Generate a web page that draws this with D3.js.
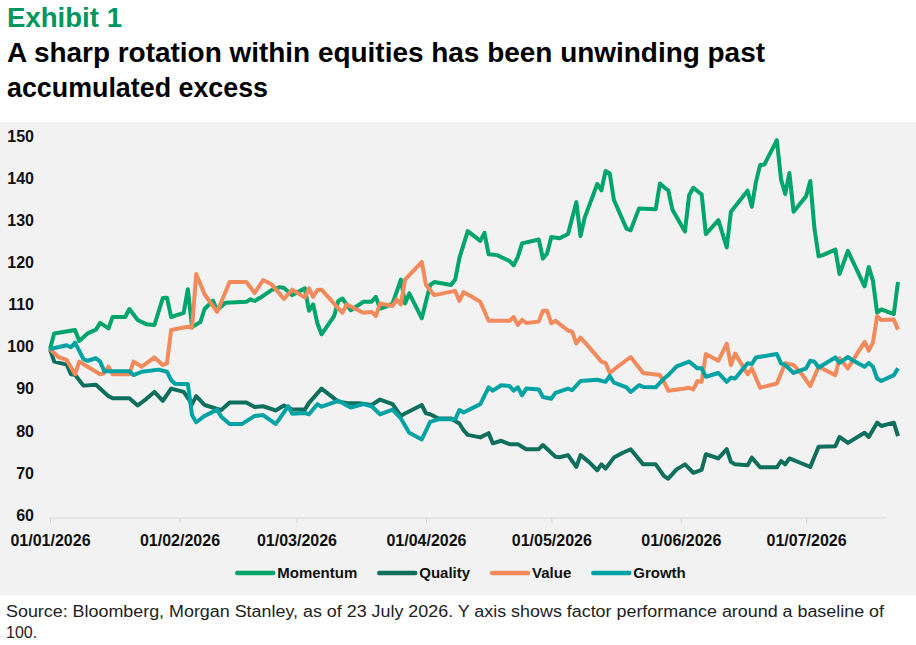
<!DOCTYPE html>
<html>
<head>
<meta charset="utf-8">
<script src="https://cdn.jsdelivr.net/npm/d3@7"></script>
<style>
  body { margin: 0; background: #ffffff; }
  svg { display: block; font-family: "Liberation Sans", Arial, sans-serif; }
</style>
</head>
<body>
<svg id="chart"></svg>
<script>
// ---- data ----
const YEAR = "2026";
const seriesNames = ["Momentum", "Quality", "Value", "Growth"];
const yTicks = [60, 70, 80, 90, 100, 110, 120, 130, 140, 150];
const exhibitLabel = "Exhibit 1";
const titleLines = ["A sharp rotation within equities has been unwinding past", "accumulated excess"];
const sourceLines = ["Source: Bloomberg, Morgan Stanley, as of 23 July 2026. Y axis shows factor performance around a baseline of", "100."];

const momentumDates = ["01-01","01-02","01-07","01-08","01-10","01-12","01-13","01-15","01-16","01-19","01-20","01-22","01-24","01-26","01-28","01-29","01-30",
  "02-02","02-03","02-04","02-06","02-07","02-09","02-10","02-12","02-17","02-18","02-19","02-21","02-23","02-25","02-26","02-28",
  "03-03","03-04","03-05","03-06","03-07","03-10","03-11","03-12","03-14","03-17","03-19","03-20","03-21","03-22","03-24","03-26","03-27","03-28","03-31",
  "04-02","04-03","04-07","04-08","04-09","04-11","04-14","04-15","04-16","04-18","04-21","04-22","04-23","04-24","04-28","04-29","04-30",
  "05-01","05-03","05-05","05-07","05-08","05-09","05-12","05-13","05-14","05-15","05-16","05-19","05-20","05-22","05-26","05-27","05-28","05-29","05-30",
  "06-02","06-03","06-04","06-06","06-07","06-10","06-12","06-13","06-17","06-18","06-19","06-20","06-21","06-24","06-25","06-26","06-27","06-28",
  "07-01","07-02","07-03","07-04","07-05","07-08","07-09","07-11","07-15","07-16","07-17","07-18","07-19","07-22","07-23"];
const momentumValues = [100,103.7,104.5,101.9,103.7,104.6,106.2,104.9,107.6,107.6,109.5,106.9,105.9,105.7,112.1,112.2,107.6,
  108.6,114.2,105.2,106.4,109.5,111.5,109.2,111.0,111.2,111.8,111.4,112.6,114.0,114.7,114.5,112.8,
  114.4,109.1,110.6,106.1,103.5,107.8,111.4,112.0,109.2,111.2,111.2,112.4,109.6,109.9,110.8,116.5,110.8,113.2,107.3,
  115.2,115.9,115.2,116.5,121.6,128.0,125.7,127.6,122.5,122.3,120.9,119.9,121.9,125.1,126.0,121.5,122.7,
  126.6,126.3,127.3,134.9,126.8,131.2,139.2,137.7,142.3,141.7,135.4,128.6,128.2,133.4,133.2,139.3,138.4,137.7,133.1,
  127.9,136.5,138.3,136.7,127.3,130.6,124.1,132.6,137.6,133.8,139.7,143.7,143.8,149.6,140.3,136.8,141.8,132.6,
  136.3,139.9,128.6,122.0,122.3,123.6,117.8,123.3,114.9,119.5,116.2,108.6,109.4,108.3,115.9];

const qualityDates = ["01-01","01-02","01-05","01-06","01-07","01-09","01-12","01-15","01-16","01-20","01-22","01-24","01-26","01-28","01-30",
  "02-02","02-04","02-05","02-07","02-11","02-13","02-17","02-19","02-21","02-24","02-26","02-28",
  "03-03","03-04","03-07","03-11","03-13","03-16","03-19","03-21","03-24","03-26","03-27","03-31",
  "04-01","04-02","04-04","04-07","04-09","04-10","04-11","04-14","04-16","04-17","04-19","04-21","04-23","04-24","04-25","04-28","04-29",
  "05-02","05-03","05-05","05-07","05-08","05-10","05-12","05-13","05-14","05-16","05-18","05-20","05-23","05-26","05-28","05-29","05-31",
  "06-02","06-04","06-06","06-07","06-10","06-12","06-13","06-14","06-17","06-18","06-20","06-24","06-25","06-26","06-27","06-30",
  "07-02","07-04","07-08","07-09","07-11","07-15","07-16","07-18","07-19","07-22","07-23"];
const qualityValues = [100,97.0,96.3,94.0,93.9,91.3,91.5,88.8,88.3,88.3,86.6,88.1,89.8,87.7,90.6,
  89.8,86.9,88.8,86.7,85.5,87.3,87.3,86.2,86.4,85.4,86.6,85.6,
  85.6,87.2,90.6,87.5,87.2,87.1,86.7,88.0,86.9,84.1,84.7,86.7,
  84.7,84.5,83.5,83.5,82.3,80.7,79.6,79.0,80.0,77.6,78.2,77.4,77.4,76.8,76.2,76.2,77.2,
  74.4,74.3,74.8,72.0,74.8,73.2,71.2,72.6,71.6,74.2,75.3,76.2,72.6,72.6,69.8,69.2,71.4,
  72.6,70.6,71.3,75.0,74.0,76.2,73.2,72.6,72.4,74.2,71.9,71.9,73.4,72.6,74.0,72.8,
  72.0,76.8,76.9,79.1,77.7,80.1,79.1,82.5,81.7,82.5,79.3];

const valueDates = ["01-01","01-03","01-05","01-07","01-08","01-10","01-13","01-14","01-15","01-16","01-20","01-21","01-23","01-26","01-28","01-29","01-30",
  "02-03","02-04","02-05","02-07","02-10","02-13","02-17","02-19","02-21","02-23","02-26","02-28",
  "03-03","03-04","03-05","03-06","03-07","03-12","03-13","03-17","03-19","03-20","03-21","03-24","03-25","03-26","03-27","03-31",
  "04-01","04-03","04-08","04-09","04-10","04-12","04-14","04-16","04-21","04-22","04-23","04-24","04-25","04-28","04-29","04-30",
  "05-01","05-02","05-05","05-06","05-07","05-08","05-10","05-13","05-14","05-15","05-17","05-20","05-23","05-27","05-28","05-29",
  "06-02","06-03","06-04","06-05","06-06","06-07","06-10","06-12","06-13","06-14","06-17","06-18","06-20","06-24","06-26","06-28","06-30",
  "07-02","07-04","07-08","07-09","07-11","07-15","07-16","07-17","07-18","07-19","07-22","07-23"];
const valueValues = [100,98.1,97.4,94.0,97.0,95.8,94.0,94.3,95.8,94.0,94.0,97.0,95.8,98.0,96.2,96.6,104.5,
  105.3,105.0,117.8,113.0,108.8,115.9,115.9,113.3,116.4,115.4,111.9,114.1,
  112.2,114.4,112.4,114.0,114.1,108.6,110.6,108.6,108.8,107.8,110.8,110.2,111.8,110.6,116.5,120.7,
  115.2,112.8,113.8,111.4,113.5,112.4,111.2,106.7,106.7,107.6,105.7,106.9,106.2,106.5,109.1,109.1,
  106.1,106.7,104.4,104.1,101.3,102.7,100.5,97.0,96.7,94.3,95.9,98.1,94.3,93.8,92.2,90.1,
  90.6,90.8,90.4,92.4,92.2,98.8,97.2,101.3,96.2,98.9,94.0,95.4,90.8,91.8,96.6,96.2,94.0,
  91.2,95.8,93.8,97.8,95.4,101.7,99.6,101.5,107.8,106.9,107.0,104.6];

const growthDates = ["01-01","01-05","01-06","01-07","01-09","01-10","01-12","01-13","01-14","01-20","01-21","01-23","01-27","01-29","01-30","01-31",
  "02-03","02-04","02-05","02-07","02-10","02-11","02-13","02-16","02-19","02-21","02-24","02-25","02-27","02-28",
  "03-03","03-04","03-06","03-07","03-11","03-12","03-14","03-17","03-19","03-21","03-24","03-26","03-28","03-31",
  "04-02","04-04","04-08","04-09","04-10","04-14","04-16","04-17","04-19","04-21","04-22","04-23","04-24","04-25","04-28","04-29",
  "05-01","05-02","05-05","05-06","05-08","05-12","05-14","05-15","05-16","05-19","05-20","05-22","05-23","05-26","05-28","05-29","05-31",
  "06-03","06-05","06-06","06-07","06-10","06-12","06-13","06-14","06-17","06-18","06-19","06-24","06-25","06-26","06-28",
  "07-01","07-02","07-03","07-04","07-08","07-09","07-11","07-12","07-15","07-16","07-17","07-18","07-19","07-22","07-23"];
const growthValues = [100,100.9,100.4,101.5,97.6,97.2,97.8,97.0,94.7,94.7,93.8,94.6,95.1,94.6,92.6,91.7,
  91.7,84.3,82.6,84.1,85.6,83.9,82.2,82.2,84.1,84.3,82.2,83.5,86.4,84.6,
  84.8,84.5,86.9,86.3,87.7,87.2,86.1,86.9,86.4,84.5,85.6,83.5,80.1,78.5,
  82.7,83.3,83.3,85.5,84.9,86.9,90.9,90.1,91.4,91.2,90.1,90.9,89.0,90.6,90.4,88.6,
  88.2,89.6,90.6,90.2,92.4,92.7,92.2,93.6,92.0,90.9,89.8,91.4,91.0,90.9,93.0,93.8,95.9,
  97.0,95.4,95.4,93.4,94.3,92.2,93.2,93.0,96.6,96.4,98.0,98.8,96.6,96.2,94.3,
  95.4,97.2,97.0,95.6,98.0,96.7,98.1,97.4,95.8,96.7,95.8,93.0,92.4,93.8,95.4];

// ---- chart ----
class FactorChart {

    constructor( config, series ) {
        this.config = {
            parent: config.parent,
            width: config.width || 916,
            height: config.height || 645,
            plotLeft: 50,
            plotRight: 898,
            plotTop: 138.5,
            plotBottom: 517.4,
            axisY: 518,
            colors: config.colors
        };
        this.series = series;
        this.init();
    }

    init() {
        let self = this;

        self.svg = d3.select( self.config.parent )
            .attr('width', self.config.width)
            .attr('height', self.config.height);

        // grey panel behind the plot and legend
        self.svg.append('rect')
            .attr('x', 0).attr('y', 122)
            .attr('width', self.config.width).attr('height', 473)
            .attr('fill', '#f2f2f2');

        self.svg.append('text')
            .attr('x', 7).attr('y', 27)
            .attr('textLength', 115).attr('lengthAdjust', 'spacingAndGlyphs')
            .style('font-size', '28px').style('font-weight', 'bold')
            .attr('fill', '#00965e')
            .text( exhibitLabel );

        const titleLengths = [758, 261];
        self.svg.selectAll('.title')
            .data( titleLines )
            .join('text')
            .attr('class', 'title')
            .attr('x', 7)
            .attr('y', (d, i) => 62 + i * 35)
            .attr('textLength', (d, i) => titleLengths[i])
            .attr('lengthAdjust', 'spacingAndGlyphs')
            .style('font-size', '28px').style('font-weight', 'bold')
            .attr('fill', '#000')
            .text( d => d );

        self.svg.selectAll('.source')
            .data( sourceLines )
            .join('text')
            .attr('class', 'source')
            .attr('x', 6)
            .attr('y', (d, i) => 617 + i * 21)
            .attr('textLength', (d, i) => i === 0 ? 878 : null)
            .attr('lengthAdjust', 'spacingAndGlyphs')
            .style('font-size', '16px')
            .attr('fill', '#222')
            .text( d => d );

        const parse = d3.timeParse('%Y-%m-%d');
        self.parse = s => parse( YEAR + '-' + s );

        self.xscale = d3.scaleTime()
            .domain([ self.parse('01-01'), self.parse('07-23') ])
            .range([ self.config.plotLeft, self.config.plotRight ]);

        self.yscale = d3.scaleLinear()
            .domain([ d3.min(yTicks), d3.max(yTicks) ])
            .range([ self.config.plotBottom, self.config.plotTop ]);

        self.chart = self.svg.append('g');
    }

    render() {
        let self = this;

        // x axis
        const months = d3.timeMonth.range( self.parse('01-01'), self.parse('07-02') );
        const xaxis = d3.axisBottom( self.xscale )
            .tickValues( months )
            .tickFormat( d3.timeFormat('%d/%m/%Y') )
            .tickSize(5)
            .tickSizeOuter(0)
            .tickPadding(12);

        const xg = self.chart.append('g')
            .attr('transform', `translate(0, ${self.config.axisY})`)
            .call( xaxis );
        xg.select('.domain')
            .attr('d', `M${self.xscale.range()[0]},0H${self.xscale( self.parse('07-20') )}`)
            .attr('stroke', '#d6d6d6');
        xg.selectAll('.tick line').attr('stroke', '#d6d6d6');
        xg.selectAll('.tick text')
            .attr('fill', '#111')
            .style('font-size', '16px')
            .style('font-weight', 'bold')
            .style('font-family', '"Liberation Sans", Arial, sans-serif');

        // y labels only
        self.chart.selectAll('.ylabel')
            .data( yTicks )
            .join('text')
            .attr('class', 'ylabel')
            .attr('x', 34)
            .attr('y', d => self.yscale(d))
            .attr('dy', '0.21em')
            .attr('text-anchor', 'end')
            .attr('fill', '#111')
            .style('font-size', '16px')
            .style('font-weight', 'bold')
            .text( d => d );

        // lines
        const line = d3.line()
            .x( d => self.xscale(d.date) )
            .y( d => self.yscale(d.value) );

        self.chart.selectAll('.series')
            .data( self.series )
            .join('path')
            .attr('class', 'series')
            .attr('d', s => line( s.points ))
            .attr('fill', 'none')
            .attr('stroke', (s, i) => self.config.colors[i])
            .attr('stroke-width', 4)
            .attr('stroke-linejoin', 'round');

        // legend
        const legend = self.svg.append('g');
        const items = legend.selectAll('g')
            .data( self.series )
            .join('g');
        items.append('line')
            .attr('x1', 2).attr('x2', 38)
            .attr('y1', 0).attr('y2', 0)
            .attr('stroke', (s, i) => self.config.colors[i])
            .attr('stroke-width', 4.5)
            .attr('stroke-linecap', 'round');
        items.append('text')
            .attr('x', 42)
            .attr('dy', '0.35em')
            .attr('fill', '#111')
            .style('font-size', '15px')
            .style('font-weight', 'bold')
            .text( s => s.name );

        let widths = [];
        items.select('text').each( function() { widths.push( 42 + this.getComputedTextLength() ); } );
        const gap = 20;
        const total = d3.sum(widths) + gap * (widths.length - 1);
        let cursor = 460.5 - total / 2;
        items.attr('transform', (s, i) => {
            const t = `translate(${cursor}, 573)`;
            cursor += widths[i] + gap;
            return t;
        });
    }
}

const dateLists = [momentumDates, qualityDates, valueDates, growthDates];
const valueLists = [momentumValues, qualityValues, valueValues, growthValues];

const chart = new FactorChart({
    parent: '#chart',
    width: 916,
    height: 645,
    colors: ['#00a56c', '#0e6f5d', '#f28a5c', '#00a2a3']
}, seriesNames.map( (name, i) => ({
    name: name,
    points: dateLists[i].map( (d, j) => ({ date: d3.timeParse('%Y-%m-%d')(YEAR + '-' + d), value: valueLists[i][j] }) )
})));
chart.render();
</script>
</body>
</html>
